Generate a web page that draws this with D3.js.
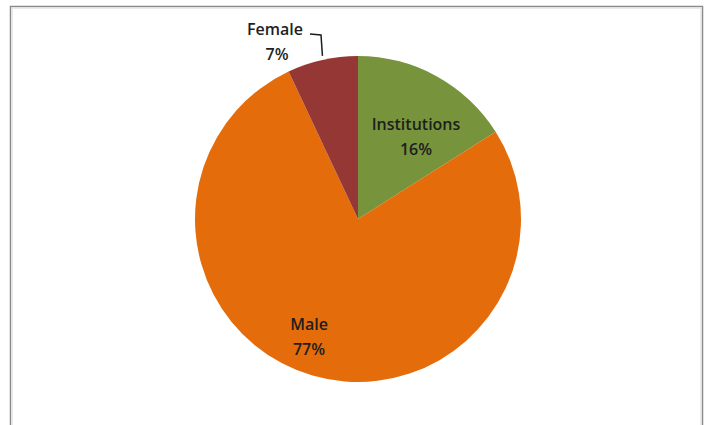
<!DOCTYPE html>
<html><head><meta charset="utf-8">
<script src="https://cdn.jsdelivr.net/npm/d3@7"></script>
<style>body{margin:0;background:#fff}svg{display:block}</style>
</head><body>
<svg id="c" width="705" height="425"></svg>
<script>
const categories = ["Institutions", "Male", "Female"];
const values = [16, 77, 7];
const colors = ["#77933C", "#E46C0A", "#953735"];

const svg = d3.select("#c");
// border frame
svg.append("rect").attr("x", 10.5).attr("y", 6.5).attr("width", 692).attr("height", 430)
  .attr("fill", "#fff").attr("stroke", "#8a8a8a").attr("stroke-width", 1.5);
svg.append("rect").attr("x", 12).attr("y", 8).attr("width", 689).attr("height", 430)
  .attr("fill", "none").attr("stroke", "#e4e4e4").attr("stroke-width", 1.5);

const cx = 358, cy = 219, r = 163;
const data = categories.map((c, i) => ({cat: c, v: values[i], col: colors[i]}));
const pie = d3.pie().value(d => d.v).sort(null);
const arcs = pie(data);
const arc = d3.arc().innerRadius(0).outerRadius(r);
const g = svg.append("g").attr("transform", `translate(${cx},${cy})`);
g.selectAll("path").data(arcs).enter().append("path")
  .attr("d", arc).attr("fill", d => d.data.col);

const font = "'Open Sans', 'Liberation Sans', sans-serif";
const labelPos = {
  "Institutions": [58, -89],
  "Male": [-49, 111],
  "Female": [-83, -184]
};
arcs.forEach(a => {
  const [lx, ly] = labelPos[a.data.cat];
  const t = g.append("text").attr("x", lx).attr("y", ly)
    .attr("text-anchor", "middle").attr("font-family", font)
    .attr("font-weight", 600).attr("font-size", 16).attr("fill", "#1e1e1e");
  t.append("tspan").attr("x", lx).attr("dy", 0).text(a.data.cat);
  t.append("tspan").attr("x", lx + (a.data.cat === "Female" ? 2 : 0)).attr("dy", 25)
    .text(Math.round(a.data.v) + "%");
});
// leader line for Female
const fa = arcs[2];
const mid = (fa.startAngle + fa.endAngle) / 2;
const ex = Math.sin(mid) * r, ey = -Math.cos(mid) * r;
g.append("path")
  .attr("d", `M${-48},${-185}L${-37},${-184}L${ex},${ey - 4}`)
  .attr("fill", "none").attr("stroke", "#1e1e1e").attr("stroke-width", 1.5);
</script>
</body></html>
